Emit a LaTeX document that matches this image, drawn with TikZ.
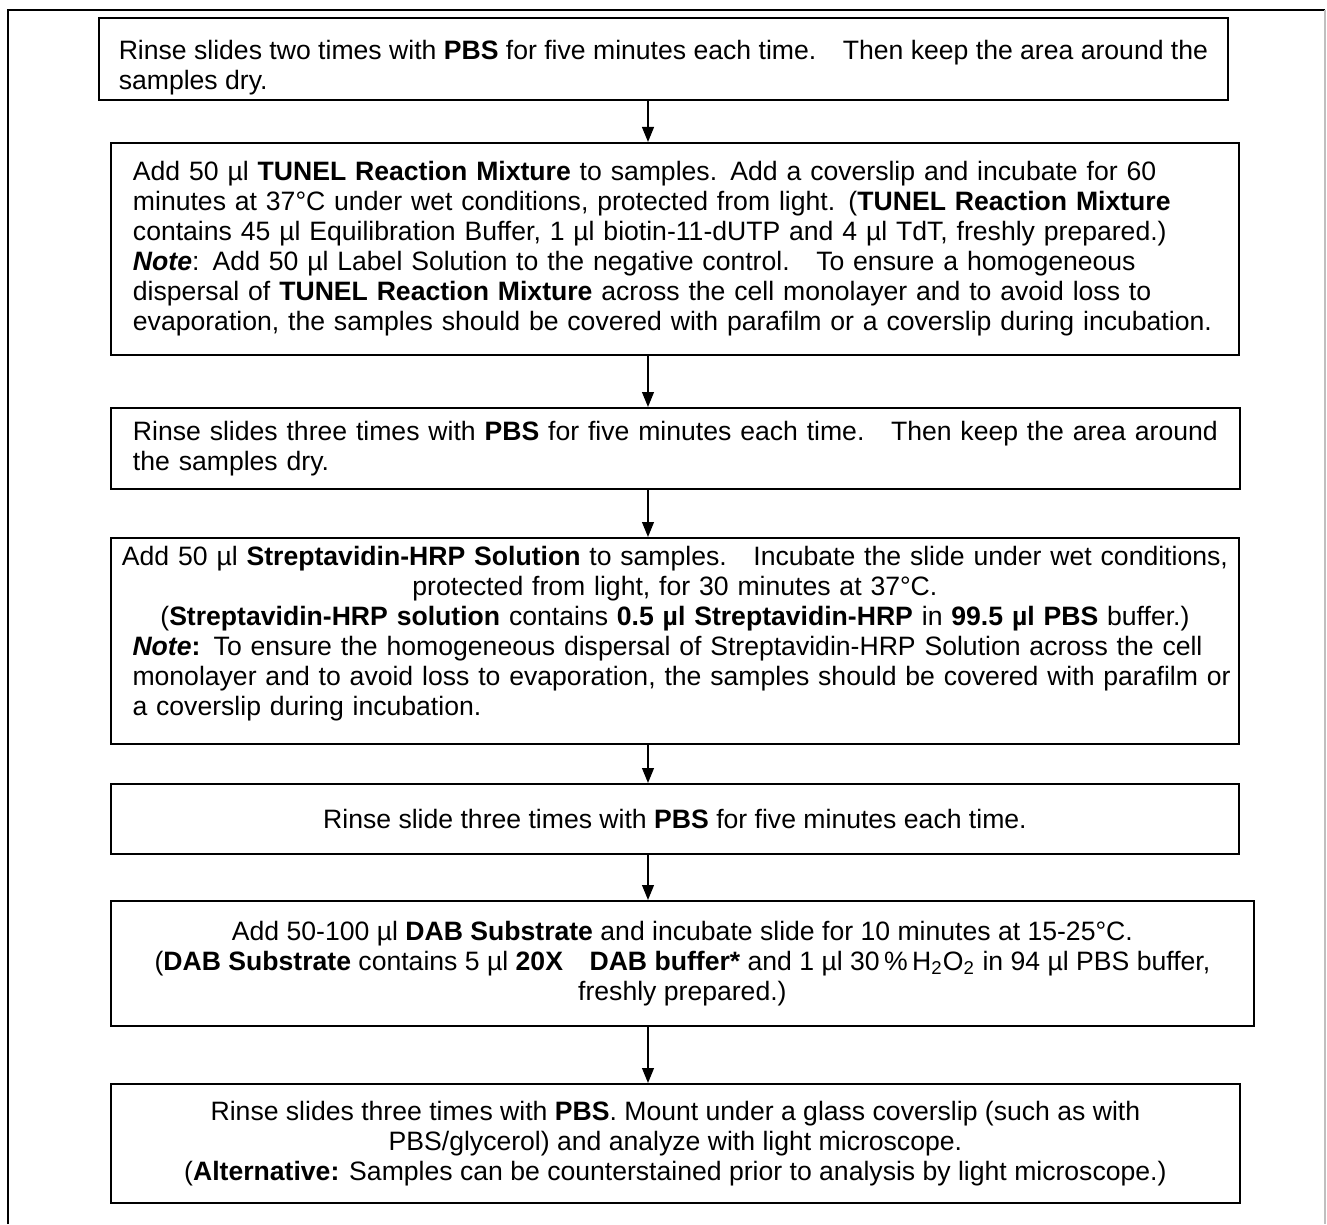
\documentclass[tikz,border=0pt]{standalone}
\usepackage{fontspec}
\setmainfont{Liberation Sans}
\usetikzlibrary{arrows.meta}

\tikzset{
  stepbox/.style={draw, line width=0.8pt, anchor=north west, inner xsep=3.5pt, inner ysep=0pt,
    font=\fontsize{11.7}{13.2}\selectfont},
  flow/.style={-{Triangle[length=6.6pt,width=5.2pt]}, line width=0.7pt}
}

\begin{document}
\begin{tikzpicture}[x=0.44pt, y=-0.44pt]
\useasboundingbox (0,0) rectangle (1327,1224);

% frame
\draw[line width=0.9pt] (8,1224) -- (8,10) -- (1325,10);
\draw[black!25, line width=0.5pt] (1325,10) -- (1325,1224);

% steps
\node[stepbox, minimum width=496.76pt, minimum height=36.08pt, align=left] (rinse1) at (98,17)
  {\rule{0pt}{16.5pt}Rinse slides two times with \textbf{PBS} for five minutes each time.\quad Then keep the area around the\\
   samples dry.};

\node[stepbox, minimum width=496.32pt, minimum height=93.28pt, inner xsep=9.7pt, text width=476.92pt, align=left] (tunel) at (110,142)
  {Add 50 µl \textbf{TUNEL Reaction Mixture} to samples. Add a coverslip and incubate for 60\\
   minutes at 37°C under wet conditions, protected from light. (\textbf{TUNEL Reaction Mixture}\\
   contains 45 µl Equilibration Buffer, 1 µl biotin-11-dUTP and 4 µl TdT, freshly prepared.)\\
   \textbf{\textit{Note}}: Add 50 µl Label Solution to the negative control.\quad To ensure a homogeneous\\
   dispersal of \textbf{TUNEL Reaction Mixture} across the cell monolayer and to avoid loss to\\
   evaporation, the samples should be covered with parafilm or a coverslip during incubation.};

\node[stepbox, minimum width=496.76pt, minimum height=35.64pt, inner xsep=9.7pt, text width=477.36pt, align=left] (rinse2) at (110,407)
  {Rinse slides three times with \textbf{PBS} for five minutes each time.\quad Then keep the area around\\
   the samples dry.};

\node[stepbox, minimum width=496.32pt, minimum height=90.64pt, text width=489.32pt] (strep) at (110,537)
  {{\centering Add 50 µl \textbf{Streptavidin-HRP Solution} to samples.\quad Incubate the slide under wet conditions,\\
   protected from light, for 30 minutes at 37°C.\\
   (\textbf{Streptavidin-HRP solution} contains \textbf{0.5 µl Streptavidin-HRP} in \textbf{99.5 µl PBS} buffer.)\par}
   {\raggedright\leftskip=6pt \textbf{\textit{Note}:} To ensure the homogeneous dispersal of Streptavidin-HRP Solution across the cell\\
   monolayer and to avoid loss to evaporation, the samples should be covered with parafilm or\\
   a coverslip during incubation.\par}
   \kern6pt};

\node[stepbox, minimum width=496.32pt, minimum height=30.8pt, align=center] (rinse3) at (110,783)
  {Rinse slide three times with \textbf{PBS} for five minutes each time.};

\node[stepbox, minimum width=502.92pt, minimum height=55pt, align=center] (dab) at (110,900)
  {Add 50-100 µl \textbf{DAB Substrate} and incubate slide for 10 minutes at 15-25°C.\\
   (\textbf{DAB Substrate} contains 5 µl \textbf{20X\quad DAB buffer*} and 1 µl 30\,\%\,H\textsubscript{2}O\textsubscript{2} in 94 µl PBS buffer,\\
   freshly prepared.)};

\node[stepbox, minimum width=496.76pt, minimum height=52.36pt, align=center] (mount) at (110,1083)
  {Rinse slides three times with \textbf{PBS}. Mount under a glass coverslip (such as with\\
   PBS/glycerol) and analyze with light microscope.\\
   (\textbf{Alternative:} Samples can be counterstained prior to analysis by light microscope.)};

% arrows
\coordinate (ax) at (648,0);
\draw[flow] (rinse1.south -| ax) -- (tunel.north -| ax);
\draw[flow] (tunel.south -| ax) -- (rinse2.north -| ax);
\draw[flow] (rinse2.south -| ax) -- (strep.north -| ax);
\draw[flow] (strep.south -| ax) -- (rinse3.north -| ax);
\draw[flow] (rinse3.south -| ax) -- (dab.north -| ax);
\draw[flow] (dab.south -| ax) -- (mount.north -| ax);
\end{tikzpicture}
\end{document}
